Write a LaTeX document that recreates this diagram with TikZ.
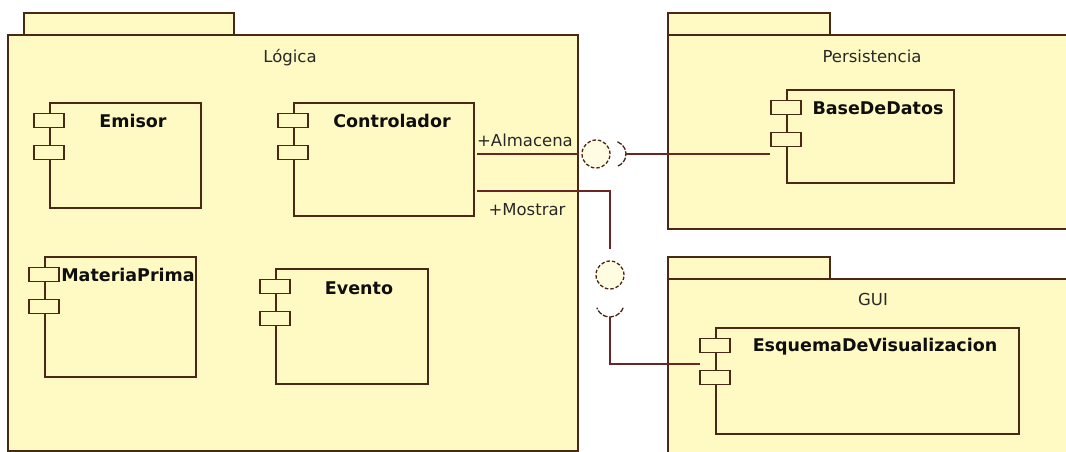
\documentclass[tikz,border=0pt]{standalone}
\usepackage{fontspec}
\setmainfont{DejaVu Sans}
\usetikzlibrary{calc}
\definecolor{fillcol}{RGB}{255,250,196}
\definecolor{linecol}{RGB}{75,40,22}
\definecolor{conncol}{RGB}{105,38,36}
\definecolor{textcol}{RGB}{15,15,15}
\definecolor{lblcol}{RGB}{40,40,40}
\newcommand\umlcomp[5]{%
  \node[comp, minimum width=#4bp, minimum height=#5bp] (#1) at (#2,#3) {};
  \node[port] (#1p1) at ($(#1.north west)+(0,11)$) {};
  \node[port] (#1p2) at ($(#1.north west)+(0,43)$) {};
}
\begin{document}
\begin{tikzpicture}[x=1bp,y=-1bp,
  pkg/.style={draw=linecol, fill=fillcol, line width=1.6bp, rectangle, inner sep=0, anchor=north west},
  comp/.style={draw=linecol, fill=fillcol, line width=1.6bp, rectangle, inner sep=0, anchor=north west},
  port/.style={draw=linecol, fill=fillcol, line width=1.5bp, rectangle, inner sep=0, anchor=north, minimum width=30bp, minimum height=14bp},
  ttl/.style={inner sep=0, anchor=base, font=\fontsize{17.5bp}{20bp}\selectfont\bfseries, text=textcol},
  lbl/.style={inner sep=0, anchor=base, font=\fontsize{16.5bp}{20bp}\selectfont, text=lblcol},
  conn/.style={draw=conncol, line width=1.5bp},
  ball/.style={circle, draw=linecol, fill=fillcol!50, line width=1.3bp, dash pattern=on 3.5bp off 2bp, minimum size=28bp, inner sep=0},
  socket/.style={draw=linecol, line width=1.3bp, dash pattern=on 5bp off 1.5bp}]
\useasboundingbox (0,0) rectangle (1066,452);
\clip (0,0) rectangle (1066,452);
\fill[white] (0,0) rectangle (1066,452);

% Packages
\node[pkg, minimum width=210bp, minimum height=22bp] (logicatab) at (23,12) {};
\node[pkg, minimum width=570bp, minimum height=416bp] (logica) at (7,34) {};
\node[lbl] (logicalbl) at (290,63) {Lógica};

\node[pkg, minimum width=162bp, minimum height=22bp] (perstab) at (667,12) {};
\node[pkg, minimum width=430bp, minimum height=194bp] (pers) at (667,34) {};
\node[lbl] (perslbl) at (872,63) {Persistencia};

\node[pkg, minimum width=162bp, minimum height=22bp] (guitab) at (667,256) {};
\node[pkg, minimum width=430bp, minimum height=200bp] (gui) at (667,278) {};
\node[lbl] (guilbl) at (873,306) {GUI};

% Components
\umlcomp{emisor}{49}{102}{151}{105}
\node[ttl] (emisorlbl) at (133,128) {Emisor};
\umlcomp{ctrl}{293}{102}{180}{113}
\node[ttl] (ctrllbl) at (392,128) {Controlador};
\umlcomp{mp}{44}{256}{151}{120}
\node[ttl] (mplbl) at (128,282) {MateriaPrima};
\umlcomp{ev}{275}{268}{152}{115}
\node[ttl] (evlbl) at (359,295) {Evento};
\umlcomp{bd}{786}{89}{167}{93}
\node[ttl] (bdlbl) at (878,115) {BaseDeDatos};
\umlcomp{esq}{715}{327}{303}{106}
\node[ttl] (esqlbl) at (875,352) {EsquemaDeVisualizacion};

% Almacena connector
\coordinate (a1) at (477,154);
\draw[conn] (a1) -- (logica.east |- a1);
\node[lbl] (almlbl) at (525,147) {+Almacena};
\node[ball] (ball1) at (596,154) {};
\coordinate (sock1c) at (613,154);
\draw[socket] (sock1c) ++(-70:13) arc[start angle=-70, end angle=70, radius=13];
\coordinate (sock1) at (626,154);
\draw[conn] (sock1) -- (bdp2.west |- sock1);

% Mostrar connector
\coordinate (m1) at (477,191);
\coordinate (m2) at (610,249);
\draw[conn] (m1) -| (m2);
\node[lbl] (mostlbl) at (527,216) {+Mostrar};
\node[ball] (ball2) at (610,275) {};
\coordinate (sock2c) at (610,303);
\draw[socket] (sock2c) ++(20:14) arc[start angle=20, end angle=160, radius=14];
\coordinate (sock2) at (610,317);
\coordinate (e1) at (700,364);
\draw[conn] (sock2) |- (e1);
\end{tikzpicture}
\end{document}
